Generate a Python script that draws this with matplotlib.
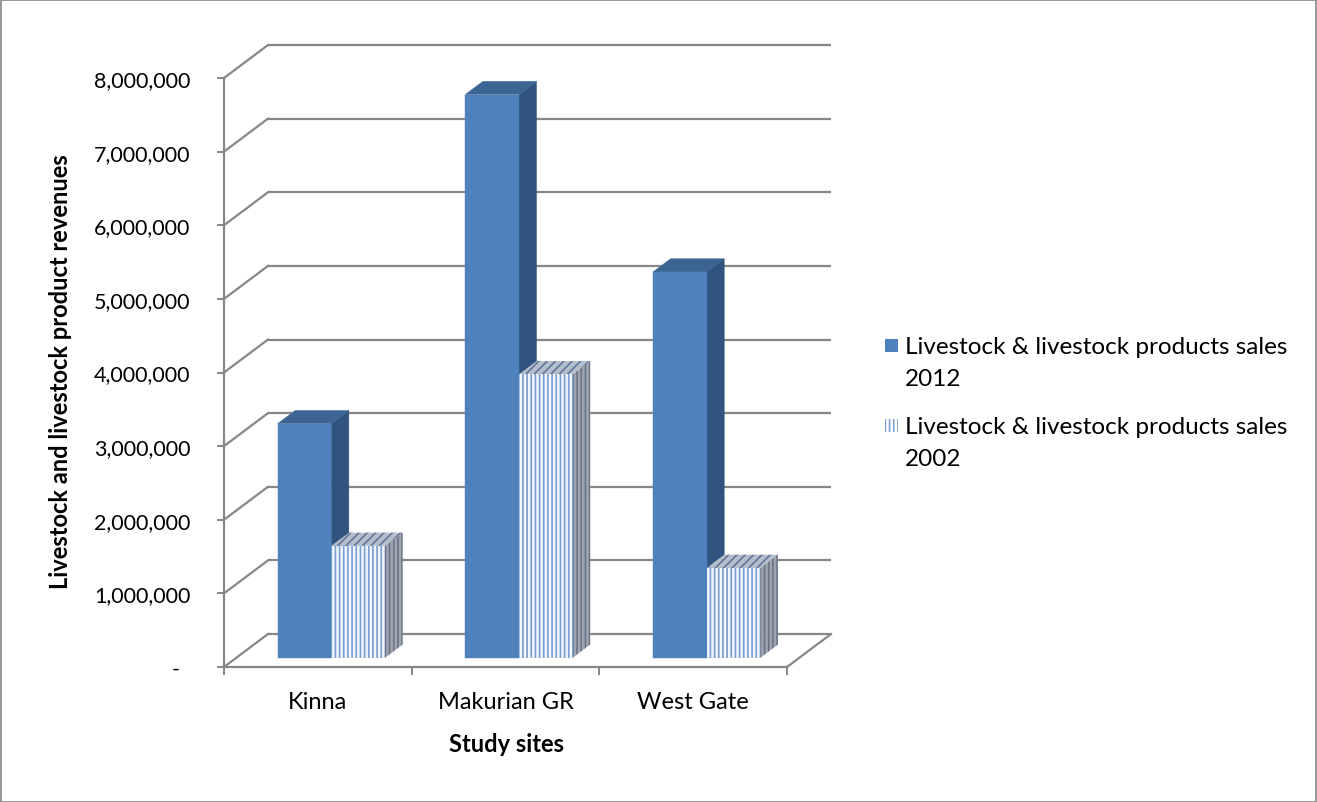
import matplotlib
matplotlib.use("Agg")
import matplotlib.pyplot as plt
from matplotlib.patches import Polygon, Rectangle
from matplotlib.ticker import FuncFormatter, FixedLocator

# ---- data ----
sites = ["Kinna", "Makurian GR", "West Gate"]
sales_2012 = [3180000, 7650000, 5240000]
sales_2002 = [1520000, 3850000, 1220000]
series_lines = [["Livestock & livestock products sales", "2012"],
                ["Livestock & livestock products sales", "2002"]]
y_ticks = list(range(0, 8000001, 1000000))

plt.rcParams["font.family"] = ["Lato", "DejaVu Sans"]
plt.rcParams["hatch.linewidth"] = 1.2

FS = 17

W, H = 1317, 803
fig = plt.figure(figsize=(W / 100, H / 100), dpi=100)

# axes box = front plane of the 3-D box (pixel layout)
ax_l, ax_r, ax_t, ax_b = 224, 787, 79, 668
ax = fig.add_axes([ax_l / W, (H - ax_b) / H, (ax_r - ax_l) / W, (ax_b - ax_t) / H])
ax.set_xlim(0, len(sites))
ax.set_ylim(0, 8000000)
ax.set_facecolor("none")

# oblique depth vector (pixels) converted to data units
depth_px = (44, 33)
px_per_x = (ax_r - ax_l) / len(sites)
px_per_y = (ax_b - ax_t) / 8000000
ddx = depth_px[0] / px_per_x
ddy = depth_px[1] / px_per_y

grid_col = "#878787"
grid_lw = 1.6

# walls: back-wall gridlines + side-wall diagonals
for v in y_ticks:
    ax.plot([ddx, len(sites) + ddx], [v + ddy, v + ddy], color=grid_col,
            lw=grid_lw, clip_on=False, zorder=1, solid_capstyle="butt")
    ax.plot([0, ddx], [v, v + ddy], color=grid_col, lw=grid_lw,
            clip_on=False, zorder=1)
# floor right edge
ax.plot([len(sites), len(sites) + ddx], [0, ddy], color=grid_col,
        lw=grid_lw, clip_on=False, zorder=1)


def pt(x, v, d):
    return (x + d * ddx, v + d * ddy)


def bar3d(x0, x1, v, d0, d1, front, top, side, hatch=None, hatch_cols=None):
    faces = [
        ([pt(x1, 0, d0), pt(x1, 0, d1), pt(x1, v, d1), pt(x1, v, d0)], side, 1),
        ([pt(x0, v, d0), pt(x1, v, d0), pt(x1, v, d1), pt(x0, v, d1)], top, 2),
        ([pt(x0, 0, d0), pt(x1, 0, d0), pt(x1, v, d0), pt(x0, v, d0)], front, 0),
    ]
    for verts, col, idx in faces:
        if hatch:
            p = Polygon(verts, closed=True, facecolor=col, edgecolor=hatch_cols[idx],
                        hatch=hatch[idx], lw=0, clip_on=False, zorder=3)
        else:
            p = Polygon(verts, closed=True, facecolor=col, edgecolor=col,
                        lw=0.3, clip_on=False, zorder=3)
        ax.add_patch(p)


bar_w = 0.286
bar_start = 0.22
d_front, d_back = 0.28, 0.68

for i in range(len(sites)):
    x0 = i + bar_start
    bar3d(x0, x0 + bar_w, sales_2012[i], d_front, d_back,
          "#4F81BD", "#3D6594", "#30547F")
    x1 = x0 + bar_w
    bar3d(x1, x1 + bar_w, sales_2002[i], d_front, d_back,
          "#F2F6FB", "#B5BECB", "#9DA5B0",
          hatch=["||||", "||||", "////"],
          hatch_cols=["#779DD2", "#6B7585", "#62789A"])

# axes spines / ticks
for s in ["top", "right"]:
    ax.spines[s].set_visible(False)
for s in ["left", "bottom"]:
    ax.spines[s].set_color(grid_col)
    ax.spines[s].set_linewidth(grid_lw)
    ax.spines[s].set_zorder(2)

ax.yaxis.set_major_locator(FixedLocator(y_ticks))
ax.yaxis.set_major_formatter(FuncFormatter(lambda v, p: "-  " if v == 0 else f"{int(v):,}"))
ax.tick_params(axis="y", direction="out", length=5, width=1.4, color=grid_col,
               labelsize=15.5, pad=19)

ax.xaxis.set_major_locator(FixedLocator(range(len(sites) + 1)))
ax.xaxis.set_major_formatter(FuncFormatter(lambda v, p: ""))
ax.xaxis.set_minor_locator(FixedLocator([i + 0.5 for i in range(len(sites))]))
ax.set_xticklabels(sites, minor=True)
ax.tick_params(axis="x", which="major", direction="out", length=6, width=1.4, color=grid_col)
ax.tick_params(axis="x", which="minor", length=0, labelsize=FS, pad=17)

# axis titles
fig.text(506 / W, (H - 745) / H, "Study sites", fontsize=FS, fontweight="bold",
         ha="center", va="center")
fig.text(60 / W, (H - 372) / H, "Livestock and livestock product revenues",
         fontsize=17, fontweight="bold", rotation=90, ha="center", va="center")

# legend
sw = 13
fig.patches.append(Rectangle((885 / W, (H - 353) / H), sw / W, sw / H,
                             transform=fig.transFigure, facecolor="#4F81BD", lw=0))
fig.patches.append(Rectangle((885 / W, (H - 433) / H), sw / W, sw / H,
                             transform=fig.transFigure, facecolor="#FFFFFF",
                             edgecolor="#7FA2D4", hatch="||||", lw=0))
for (l1, l2), base in zip(series_lines, [354, 434]):
    fig.text(905 / W, (H - base) / H, l1, fontsize=17.5, va="baseline", ha="left")
    fig.text(905 / W, (H - base - 32) / H, l2, fontsize=17.5, va="baseline", ha="left")

# chart border
fig.patches.append(Rectangle((0.5 / W, 0.5 / H), 1 - 1.5 / W, 1 - 1.5 / H,
                             transform=fig.transFigure, fill=False,
                             edgecolor="#868686", lw=1.2))

fig.savefig("out.png", dpi=100)
